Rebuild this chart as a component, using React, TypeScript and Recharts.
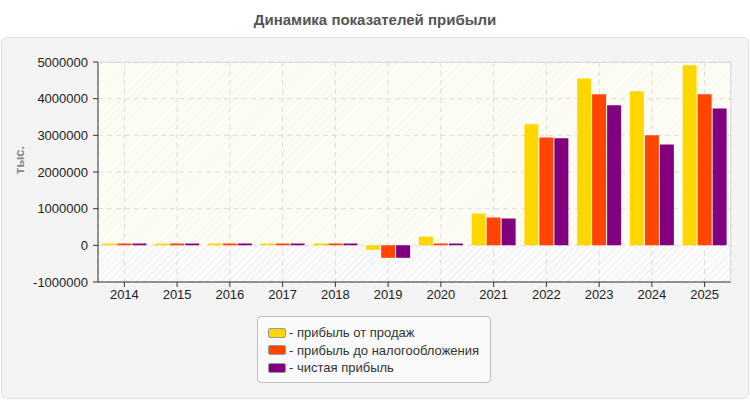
import React from 'react';
import { BarChart, Bar, XAxis, YAxis, CartesianGrid } from 'recharts';

// Годы и показатели, тыс.
const years = ['2014', '2015', '2016', '2017', '2018', '2019', '2020', '2021', '2022', '2023', '2024', '2025'];
const salesProfit = [50000, 50000, 50000, 50000, 50000, -120000, 240000, 865000, 3300000, 4550000, 4200000, 4910000];
const preTaxProfit = [50000, 50000, 50000, 50000, 50000, -340000, 50000, 757000, 2940000, 4120000, 3000000, 4120000];
const netProfit = [50000, 50000, 50000, 50000, 50000, -340000, 50000, 730000, 2920000, 3820000, 2750000, 3730000];
const yTicks = [-1000000, 0, 1000000, 2000000, 3000000, 4000000, 5000000];

const series = [
  { key: 'sales', name: 'прибыль от продаж', color: '#FFD700' },
  { key: 'preTax', name: 'прибыль до налогообложения', color: '#FF4500' },
  { key: 'net', name: 'чистая прибыль', color: '#800080' },
];

const data = years.map((year, i) => ({
  year,
  sales: salesProfit[i],
  preTax: preTaxProfit[i],
  net: netProfit[i],
}));

const FONT = 'Arial, "Liberation Sans", sans-serif';

const LegendBox = () => (
  <div
    style={{
      position: 'absolute',
      left: 257,
      top: 316,
      width: 234,
      height: 67,
      boxSizing: 'border-box',
      border: '1px solid #bdbdbd',
      borderRadius: 4,
      background: '#fafafa',
      padding: '7px 0 0 10px',
      fontFamily: FONT,
      fontSize: 13,
      color: '#333',
    }}
  >
    {series.map(s => (
      <div key={s.key} style={{ display: 'flex', alignItems: 'center', height: 17.5 }}>
        <span
          style={{
            display: 'inline-block',
            width: 16,
            height: 8,
            background: s.color,
            border: '1px solid #999',
            borderRadius: 2,
            marginRight: 3,
          }}
        />
        <span>- {s.name}</span>
      </div>
    ))}
  </div>
);

const App: React.FC = () => {
  return (
    <div style={{ position: 'fixed', left: 0, top: 0, width: 750, height: 400, background: '#fff', overflow: 'hidden' }}>
      <div
        style={{
          position: 'absolute',
          left: 0,
          top: 11,
          width: 750,
          textAlign: 'center',
          fontFamily: '"Liberation Sans Narrow", Arial, sans-serif',
          fontWeight: 'bold',
          fontSize: 15,
          color: '#555',
        }}
      >
        Динамика показателей прибыли
      </div>
      <div
        style={{
          position: 'absolute',
          left: 1,
          top: 37,
          width: 748,
          height: 362,
          boxSizing: 'border-box',
          background: '#f4f4f4',
          border: '1px solid #e0e0e0',
          borderRadius: 6,
        }}
      />
      <div
        style={{
          position: 'absolute',
          left: 19,
          top: 160,
          transform: 'translate(-50%, -50%) rotate(-90deg)',
          fontFamily: FONT,
          fontWeight: 'bold',
          fontSize: 13,
          color: '#888',
          whiteSpace: 'nowrap',
        }}
      >
        тыс.
      </div>
      <div style={{ position: 'absolute', left: 0, top: 0 }}>
        <BarChart
          width={750}
          height={400}
          data={data}
          margin={{ top: 62, right: 19, bottom: 98, left: 28 }}
          barCategoryGap="8.3%"
          barGap={1}
        >
          <defs>
            <pattern id="hatchCream" width="5" height="5" patternUnits="userSpaceOnUse" patternTransform="rotate(45)">
              <rect width="5" height="5" fill="#fffff6" />
              <line x1="0" y1="0" x2="0" y2="5" stroke="#f4f4ea" strokeWidth="2" />
            </pattern>
            <pattern id="hatchGray" width="5" height="5" patternUnits="userSpaceOnUse" patternTransform="rotate(45)">
              <rect width="5" height="5" fill="#fbfbfb" />
              <line x1="0" y1="0" x2="0" y2="5" stroke="#efefef" strokeWidth="2" />
            </pattern>
          </defs>
          <CartesianGrid
            stroke="#dcdcdc"
            strokeDasharray="5 4"
            horizontalFill={[
              'url(#hatchCream)',
              'url(#hatchCream)',
              'url(#hatchCream)',
              'url(#hatchCream)',
              'url(#hatchCream)',
              'url(#hatchGray)',
              'url(#hatchGray)',
            ]}
            fillOpacity={1}
          />
          <XAxis
            dataKey="year"
            axisLine={{ stroke: '#333' }}
            tickLine={{ stroke: '#333' }}
            tickSize={5}
            tickMargin={3}
            tick={{ fill: '#222', fontSize: 13, fontFamily: FONT }}
            height={20}
            interval={0}
          />
          <YAxis
            domain={[-1000000, 5000000]}
            ticks={yTicks}
            width={70}
            axisLine={{ stroke: '#333' }}
            tickLine={{ stroke: '#333' }}
            tickSize={5}
            tickMargin={5}
            tick={{ fill: '#222', fontSize: 13, fontFamily: FONT }}
            allowDataOverflow
          />
          {series.map(s => (
            <Bar key={s.key} dataKey={s.key} name={s.name} fill={s.color} isAnimationActive={false} />
          ))}
        </BarChart>
      </div>
      <div
        style={{
          position: 'absolute',
          left: 98,
          top: 62,
          width: 633,
          height: 220,
          boxSizing: 'border-box',
          borderTop: '1px solid #dcdcdc',
          borderRight: '1px solid #dcdcdc',
          pointerEvents: 'none',
        }}
      />
      <LegendBox />
    </div>
  );
};

export default App;
